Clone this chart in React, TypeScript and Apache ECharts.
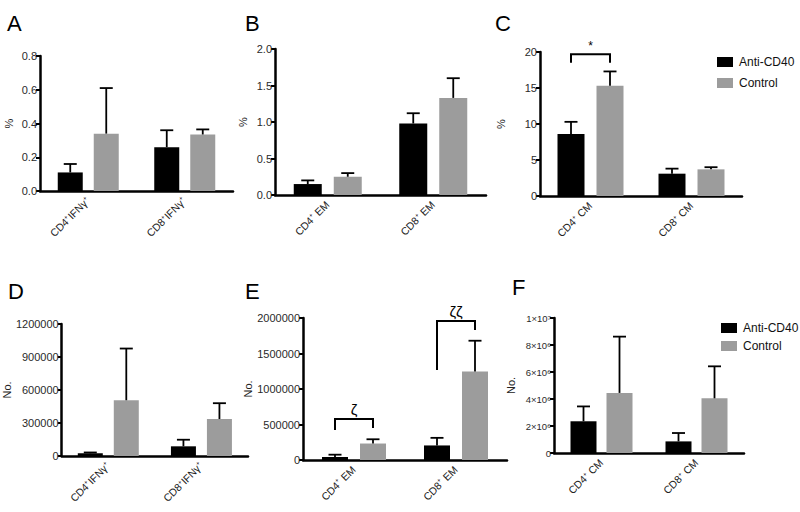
import React, { useEffect, useRef } from 'react';
import * as echarts from 'echarts';

const FONT = '"Liberation Sans", Arial, Helvetica, sans-serif';
const BLACK = '#000000';
const GRAY = '#9c9c9c';

// ---- categories ----
const catsIFN = ['CD4⁺IFNγ⁺', 'CD8⁺IFNγ⁺'];
const catsEM = ['CD4⁺ EM', 'CD8⁺ EM'];
const catsCM = ['CD4⁺ CM', 'CD8⁺ CM'];

// ---- panel A (%) ----
const antiA = [0.11, 0.26];
const antiAErr = [0.16, 0.36];
const ctrlA = [0.34, 0.335];
const ctrlAErr = [0.61, 0.365];
// ---- panel B (%) ----
const antiB = [0.15, 0.98];
const antiBErr = [0.2, 1.12];
const ctrlB = [0.25, 1.33];
const ctrlBErr = [0.3, 1.6];
// ---- panel C (%) ----
const antiC = [8.6, 3.1];
const antiCErr = [10.3, 3.8];
const ctrlC = [15.3, 3.7];
const ctrlCErr = [17.3, 4.0];
// ---- panel D (No.) ----
const antiD = [25000, 88000];
const antiDErr = [32000, 148000];
const ctrlD = [507000, 336000];
const ctrlDErr = [977000, 480000];
// ---- panel E (No.) ----
const antiE = [42000, 205000];
const antiEErr = [75000, 312000];
const ctrlE = [232000, 1245000];
const ctrlEErr = [292000, 1680000];
// ---- panel F (No.) ----
const antiF = [2.35e6, 0.86e6];
const antiFErr = [3.45e6, 1.48e6];
const ctrlF = [4.45e6, 4.05e6];
const ctrlFErr = [8.62e6, 6.42e6];

// ---- significance brackets: [category, top, leftEnd, rightEnd], label ----
const bracketsC = [[0, 19.7, 18.5, 18.5]];
const bracketLabelsC = ['*'];
const bracketsE = [
  [0, 577000, 422000, 450000],
  [1, 1958000, 1268000, 1831000],
];
const bracketLabelsE = ['ζ', 'ζζ'];

// ---- y tick labels ----
const fmtDec = (v: number) => v.toFixed(1);
const fmtInt = (v: number) => String(v);
const fmtSci = (v: number) => {
  if (v === 0) return '0';
  if (v >= 1e7) return `${v / 1e7}×10⁷`;
  return `${v / 1e6}×10⁶`;
};

type Panel = {
  letter: string;
  letterPos: [number, number];
  grid: { left: number; top: number; width: number; height: number };
  cats: string[];
  anti: number[];
  antiErr: number[];
  ctrl: number[];
  ctrlErr: number[];
  max: number;
  interval: number;
  name: string;
  nameGap: number;
  fmt: (v: number) => string;
  labelSize: number;
  barWidth: number;
  gap: number;
  brackets?: number[][];
  bracketLabels?: string[];
  bracketFont?: number;
};

const panels: Panel[] = [
  { letter: 'A', letterPos: [7, 12], grid: { left: 40, top: 56, width: 193, height: 135 }, cats: catsIFN, anti: antiA, antiErr: antiAErr, ctrl: ctrlA, ctrlErr: ctrlAErr, max: 0.8, interval: 0.2, name: '%', nameGap: 26, fmt: fmtDec, labelSize: 11, barWidth: 25, gap: 11 },
  { letter: 'B', letterPos: [245, 12], grid: { left: 275, top: 49, width: 211, height: 146 }, cats: catsEM, anti: antiB, antiErr: antiBErr, ctrl: ctrlB, ctrlErr: ctrlBErr, max: 2.0, interval: 0.5, name: '%', nameGap: 27, fmt: fmtDec, labelSize: 11, barWidth: 28, gap: 12 },
  { letter: 'C', letterPos: [495, 12], grid: { left: 540, top: 52, width: 202, height: 144 }, cats: catsCM, anti: antiC, antiErr: antiCErr, ctrl: ctrlC, ctrlErr: ctrlCErr, max: 20, interval: 5, name: '%', nameGap: 34, fmt: fmtInt, labelSize: 11, barWidth: 27, gap: 12, brackets: bracketsC, bracketLabels: bracketLabelsC, bracketFont: 12 },
  { letter: 'D', letterPos: [8, 280], grid: { left: 57, top: 324, width: 191, height: 132 }, cats: catsIFN, anti: antiD, antiErr: antiDErr, ctrl: ctrlD, ctrlErr: ctrlDErr, max: 1200000, interval: 300000, name: 'No.', nameGap: 41, fmt: fmtInt, labelSize: 11, barWidth: 25, gap: 11 },
  { letter: 'E', letterPos: [245, 280], grid: { left: 303, top: 318, width: 204, height: 142 }, cats: catsEM, anti: antiE, antiErr: antiEErr, ctrl: ctrlE, ctrlErr: ctrlEErr, max: 2000000, interval: 500000, name: 'No.', nameGap: 48, fmt: fmtInt, labelSize: 11, barWidth: 26, gap: 12, brackets: bracketsE, bracketLabels: bracketLabelsE, bracketFont: 15 },
  { letter: 'F', letterPos: [512, 276], grid: { left: 554, top: 318, width: 190, height: 135 }, cats: catsCM, anti: antiF, antiErr: antiFErr, ctrl: ctrlF, ctrlErr: ctrlFErr, max: 1e7, interval: 2e6, name: 'No.', nameGap: 38, fmt: fmtSci, labelSize: 9.5, barWidth: 26, gap: 10 },
];

function buildOption() {
  const grid: any[] = [];
  const xAxis: any[] = [];
  const yAxis: any[] = [];
  const series: any[] = [];
  const title: any[] = [];

  panels.forEach((p, i) => {
    grid.push({ ...p.grid, containLabel: false });
    title.push({
      text: p.letter,
      left: p.letterPos[0],
      top: p.letterPos[1],
      padding: 0,
      textStyle: { fontSize: 22, fontWeight: 'normal', color: '#000', fontFamily: FONT },
    });
    xAxis.push({
      type: 'category',
      gridIndex: i,
      data: p.cats,
      axisLine: { lineStyle: { color: '#000', width: 2.5 } },
      axisTick: { alignWithLabel: true, length: 4, lineStyle: { color: '#000', width: 2 } },
      axisLabel: { rotate: 45, interval: 0, fontSize: 10.5, color: '#222', fontFamily: FONT, margin: 8 },
      splitLine: { show: false },
    });
    yAxis.push({
      type: 'value',
      gridIndex: i,
      min: 0,
      max: p.max,
      interval: p.interval,
      name: p.name,
      nameLocation: 'middle',
      nameGap: p.nameGap,
      nameTextStyle: { fontSize: 11, color: '#222', fontFamily: FONT },
      axisLine: { show: true, lineStyle: { color: '#000', width: 2.5 } },
      axisTick: { show: true, length: 4, lineStyle: { color: '#000', width: 2 } },
      axisLabel: { fontSize: p.labelSize, color: '#2a2a2a', fontFamily: FONT, margin: 3, formatter: p.fmt },
      splitLine: { show: false },
    });
    const barGap = `${(p.gap / p.barWidth) * 100}%`;
    series.push({
      type: 'bar', name: 'Anti-CD40', xAxisIndex: i, yAxisIndex: i,
      data: p.anti, barWidth: p.barWidth, barGap, itemStyle: { color: BLACK },
    });
    series.push({
      type: 'bar', name: 'Control', xAxisIndex: i, yAxisIndex: i,
      data: p.ctrl, barWidth: p.barWidth, barGap, itemStyle: { color: GRAY },
    });
    const offset = (p.barWidth + p.gap) / 2;
    const errData: number[][] = [];
    p.anti.forEach((v, k) => errData.push([k, v, p.antiErr[k], -1]));
    p.ctrl.forEach((v, k) => errData.push([k, v, p.ctrlErr[k], 1]));
    series.push({
      type: 'custom',
      xAxisIndex: i,
      yAxisIndex: i,
      z: 5,
      data: errData,
      encode: { x: 0, y: 1 },
      renderItem: (params: any, api: any) => {
        const cat = api.value(0);
        const v = api.value(1);
        const e = api.value(2);
        const side = api.value(3);
        const base = api.coord([cat, v]);
        const top = api.coord([cat, e]);
        const x = base[0] + side * offset;
        const cap = 6.5;
        const style = { stroke: '#000', lineWidth: 1.8, fill: 'none' };
        return {
          type: 'group',
          children: [
            { type: 'line', shape: { x1: x, y1: base[1], x2: x, y2: top[1] }, style },
            { type: 'line', shape: { x1: x - cap, y1: top[1], x2: x + cap, y2: top[1] }, style },
          ],
        };
      },
    });
    if (p.brackets) {
      const labels = p.bracketLabels || [];
      const fs = p.bracketFont || 12;
      series.push({
        type: 'custom',
        xAxisIndex: i,
        yAxisIndex: i,
        z: 6,
        data: p.brackets.map((b, k) => [...b, k]),
        encode: { x: 0, y: 1 },
        renderItem: (params: any, api: any) => {
          const cat = api.value(0);
          const topV = api.value(1);
          const lV = api.value(2);
          const rV = api.value(3);
          const idx = api.value(4);
          const c = api.coord([cat, topV]);
          const l = api.coord([cat, lV]);
          const r = api.coord([cat, rV]);
          const xl = c[0] - offset;
          const xr = c[0] + offset;
          return {
            type: 'group',
            children: [
              {
                type: 'polyline',
                shape: { points: [[xl, l[1]], [xl, c[1]], [xr, c[1]], [xr, r[1]]] },
                style: { stroke: '#000', lineWidth: 2, fill: 'none' },
              },
              {
                type: 'text',
                x: c[0],
                y: c[1] - 2,
                style: {
                  text: labels[idx],
                  fontSize: fs,
                  fontFamily: FONT,
                  fill: '#000',
                  align: 'center',
                  verticalAlign: 'bottom',
                },
              },
            ],
          };
        },
      });
    }
  });

  const legendBase = {
    data: ['Anti-CD40', 'Control'],
    orient: 'vertical',
    icon: 'rect',
    itemWidth: 16,
    itemHeight: 10,
    padding: 0,
    selectedMode: false,
    textStyle: { fontSize: 12, color: '#111', fontFamily: FONT, padding: [0, 0, 0, 1] },
  };

  return {
    animation: false,
    backgroundColor: '#ffffff',
    title,
    legend: [
      { ...legendBase, left: 717, top: 56, itemGap: 9 },
      { ...legendBase, left: 721, top: 322, itemGap: 6 },
    ],
    grid,
    xAxis,
    yAxis,
    series,
  };
}

export default function App() {
  const ref = useRef<HTMLDivElement>(null);
  useEffect(() => {
    if (!ref.current) return;
    const chart = echarts.init(ref.current, null, { renderer: 'svg' });
    chart.setOption(buildOption() as any);
    return () => chart.dispose();
  }, []);
  return (
    <div
      ref={ref}
      style={{ position: 'absolute', left: 0, top: 0, width: 800, height: 512, background: '#fff' }}
    />
  );
}
